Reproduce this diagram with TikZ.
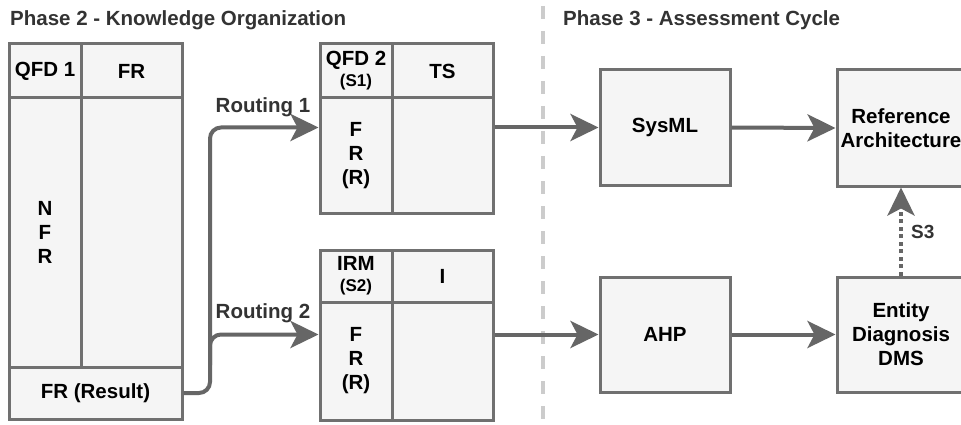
\documentclass[tikz,border=0pt]{standalone}
\usepackage{fontspec}
\setmainfont{Liberation Sans}
\usetikzlibrary{arrows.meta}
\definecolor{linegray}{HTML}{666666}
\definecolor{boxgray}{HTML}{707070}
\definecolor{fillgray}{HTML}{F5F5F5}
\definecolor{titlegray}{HTML}{333333}
\definecolor{divgray}{HTML}{CCCCCC}
\tikzset{
  cell/.style={draw=boxgray, line width=3pt, fill=fillgray, inner sep=0pt, align=center,
    font=\fontsize{20.5}{24}\selectfont\bfseries, text=black},
  arr/.style={draw=linegray, line width=4pt, -{Stealth[length=28pt,width=27pt,inset=7pt]}},
  dotarr/.style={arr, dash pattern=on 4pt off 3.5pt},
  lbl/.style={font=\fontsize{20.5}{24}\selectfont\bfseries, text=titlegray, inner sep=0pt},
  title/.style={font=\fontsize{20.5}{24}\selectfont\bfseries, text=titlegray, inner sep=0pt, anchor=base west},
}
\newcommand{\sm}[1]{{\fontsize{17}{18}\selectfont #1}}
\begin{document}
\begin{tikzpicture}[x=1pt,y=-1pt]
\useasboundingbox (0,0) rectangle (961,425);
\fill[white] (0,0) rectangle (961,425);
\clip (0,0) rectangle (961,425);
% titles
\node[title] (t2) at (10,26) {Phase 2 - Knowledge Organization};
\node[title] (t3) at (563,26) {Phase 3 - Assessment Cycle};
% divider
\draw[divgray, line width=4pt, dash pattern=on 13pt off 12pt] (543,6) -- (543,425);
% QFD 1 table
\node[cell, minimum width=72pt, minimum height=54pt] (q1h1) at (45,71) {QFD 1};
\node[cell, minimum width=101pt, minimum height=54pt] (q1h2) at (131.5,71) {FR};
\node[cell, minimum width=72pt, minimum height=269pt] (q1b1) at (45,232.5) {N\\F\\R};
\node[cell, minimum width=101pt, minimum height=269pt] (q1b2) at (131.5,232.5) {};
\node[cell, minimum width=173pt, minimum height=52pt] (q1r) at (95.5,393) {FR (Result)};
% QFD 2 table
\node[cell, minimum width=72pt, minimum height=54pt] (q2h1) at (356,71) {QFD 2\\[-3pt]\sm{(S1)}};
\node[cell, minimum width=101pt, minimum height=54pt] (q2h2) at (442.5,71) {TS};
\node[cell, minimum width=72pt, minimum height=115pt] (q2b1) at (356,155.5) {F\\R\\(R)};
\node[cell, minimum width=101pt, minimum height=115pt] (q2b2) at (442.5,155.5) {};
% IRM table
\node[cell, minimum width=72pt, minimum height=52pt] (irh1) at (356,276) {IRM\\[-3pt]\sm{(S2)}};
\node[cell, minimum width=101pt, minimum height=52pt] (irh2) at (442.5,276) {I};
\node[cell, minimum width=72pt, minimum height=118pt] (irb1) at (356,361) {F\\R\\(R)};
\node[cell, minimum width=101pt, minimum height=118pt] (irb2) at (442.5,361) {};
% phase 3 boxes
\node[cell, minimum width=130pt, minimum height=115pt] (sysml) at (665,127.5) {SysML};
\node[cell, minimum width=130pt, minimum height=115pt] (ahp) at (665,334.5) {AHP};
\node[cell, minimum width=128pt, minimum height=116pt] (ref) at (901,128) {Reference\\Architecture};
\node[cell, minimum width=128pt, minimum height=115pt] (ent) at (901,334.5) {Entity\\Diagnosis\\DMS};
% routing
\coordinate (bend) at (210,393);
\coordinate (split) at (210,365);
\draw[arr, rounded corners=11pt] (q1r.east) -- (bend) -- (bend |- sysml.west) -- (q2b1.west |- sysml.west);
\draw[arr, rounded corners=11pt] (split) -- (split |- ahp.west) -- (irb1.west |- ahp.west);
\node[lbl] (r1) at (263,107) {Routing 1};
\node[lbl] (r2) at (263,313) {Routing 2};
% phase 3 arrows
\draw[arr] (q2b2.east |- sysml.west) -- (sysml.west);
\draw[arr] (sysml.east) -- (ref.west);
\draw[arr] (irb2.east |- ahp.west) -- (ahp.west);
\draw[arr] (ahp.east) -- (ent.west);
\draw[dotarr] (ent.north) -- (ref.south);
\node[lbl, font=\fontsize{19}{22}\selectfont\bfseries, anchor=west] (s3) at (911,232) {S3};
\end{tikzpicture}
\end{document}
